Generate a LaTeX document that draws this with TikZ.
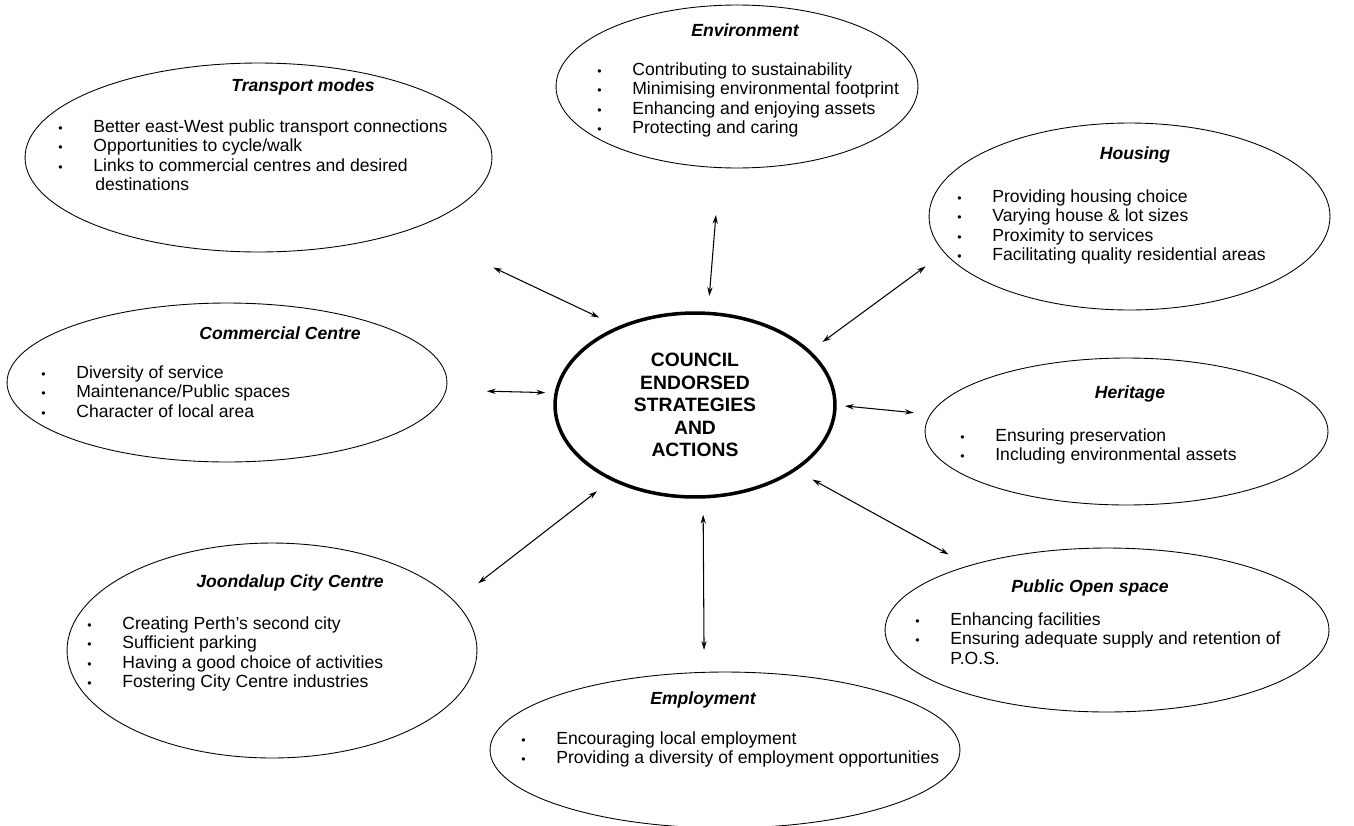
\documentclass[tikz,border=0pt]{standalone}
\usepackage{fontspec}
\setmainfont{Liberation Sans}
\usetikzlibrary{shapes.geometric,arrows.meta}

\newcommand{\bul}{\makebox[0.7cm][l]{\fontsize{7}{7}\selectfont\textbullet}}

\begin{document}
\begin{tikzpicture}[x=0.02cm, y=-0.02cm,
  bubble/.style={ellipse, draw, line width=0.5pt, inner sep=0pt, outer sep=0pt},
  heading/.style={font=\fontsize{10}{11.1}\selectfont\bfseries\itshape},
  items/.style={anchor=north west, align=left, inner sep=0pt, font=\fontsize{10}{11.1}\selectfont},
  link/.style={<->, >={Stealth[length=5pt,width=3pt]}, line width=0.6pt}]
\useasboundingbox (0,0) rectangle (1354,825);

\node [bubble, line width=2pt, minimum width=5.6cm, minimum height=3.68cm, align=center,
  font=\fontsize{11}{12.8}\selectfont\bfseries] (council) at (695,405)
  {COUNCIL\\ENDORSED\\STRATEGIES\\AND\\ACTIONS};

\node [bubble, minimum width=9.34cm, minimum height=3.78cm] (transport) at (258.5,157.5) {};
\node [heading] (transport-title) at (303,87) {Transport modes};
\node [items] (transport-list) at (58,119) {\bul Better east-West public transport connections\\
  \bul Opportunities to cycle/walk\\ \bul Links to commercial centres and desired\\ \hspace*{0.74cm}destinations};

\node [bubble, minimum width=7.24cm, minimum height=3.26cm] (environment) at (737,86.5) {};
\node [heading] (environment-title) at (745,30) {Environment};
\node [items] (environment-list) at (597,62) {\bul Contributing to sustainability\\
  \bul Minimising environmental footprint\\ \bul Enhancing and enjoying assets\\ \bul Protecting and caring};

\node [bubble, minimum width=8.02cm, minimum height=3.74cm] (housing) at (1129.5,216.5) {};
\node [heading] (housing-title) at (1135,155) {Housing};
\node [items] (housing-list) at (957,189) {\bul Providing housing choice\\
  \bul Varying house \& lot sizes\\ \bul Proximity to services\\ \bul Facilitating quality residential areas};

\node [bubble, minimum width=8.8cm, minimum height=3.18cm] (commercial) at (227,382.5) {};
\node [heading] (commercial-title) at (280,333) {Commercial Centre};
\node [items] (commercial-list) at (41,365) {\bul Diversity of service\\
  \bul Maintenance/Public spaces\\ \bul Character of local area};

\node [bubble, minimum width=8.06cm, minimum height=2.94cm] (heritage) at (1126.5,431.5) {};
\node [heading] (heritage-title) at (1130,394) {Heritage};
\node [items] (heritage-list) at (960,428) {\bul Ensuring preservation\\ \bul Including environmental assets};

\node [bubble, minimum width=8.2cm, minimum height=4.3cm] (joondalup) at (272,650.5) {};
\node [heading] (joondalup-title) at (290,583) {Joondalup City Centre};
\node [items] (joondalup-list) at (87,616) {\bul Creating Perth's second city\\
  \bul Sufficient parking\\ \bul Having a good choice of activities\\ \bul Fostering City Centre industries};

\node [bubble, minimum width=8.88cm, minimum height=3.28cm] (openspace) at (1107,630) {};
\node [heading] (openspace-title) at (1090,588) {Public Open space};
\node [items] (openspace-list) at (915,612) {\bul Enhancing facilities\\
  \bul Ensuring adequate supply and retention of\\ \hspace*{0.7cm}P.O.S.};

\node [bubble, minimum width=9.4cm, minimum height=3.12cm] (employment) at (725,750) {};
\node [heading] (employment-title) at (703,700) {Employment};
\node [items] (employment-list) at (521,731) {\bul Encouraging local employment\\
  \bul Providing a diversity of employment opportunities};

\draw [link, shorten <=1.81cm, shorten >=0.46cm] (transport.-25.1) -- (council.134.7);
\draw [link, shorten <=0.95cm, shorten >=0.35cm] (environment.-102.85) -- (council.82.1);
\draw [link, shorten <=0.47cm, shorten >=0.33cm] (housing.191.7) -- (council.25.2);
\draw [link, shorten <=0.82cm, shorten >=0.22cm] (commercial.-2.76) -- (council.175.06);
\draw [link, shorten <=0.2cm, shorten >=0.34cm] (council.-0.86) -- (heritage.175.3);
\draw [link, shorten <=0.6cm, shorten >=0.39cm] (joondalup.15.07) -- (council.-138.5);
\draw [link, shorten <=0.36cm, shorten >=0.45cm] (council.-85) -- (employment.105.8);
\draw [link, shorten <=0.41cm, shorten >=0.47cm] (council.-33.3) -- (openspace.155.7);
\end{tikzpicture}
\end{document}
